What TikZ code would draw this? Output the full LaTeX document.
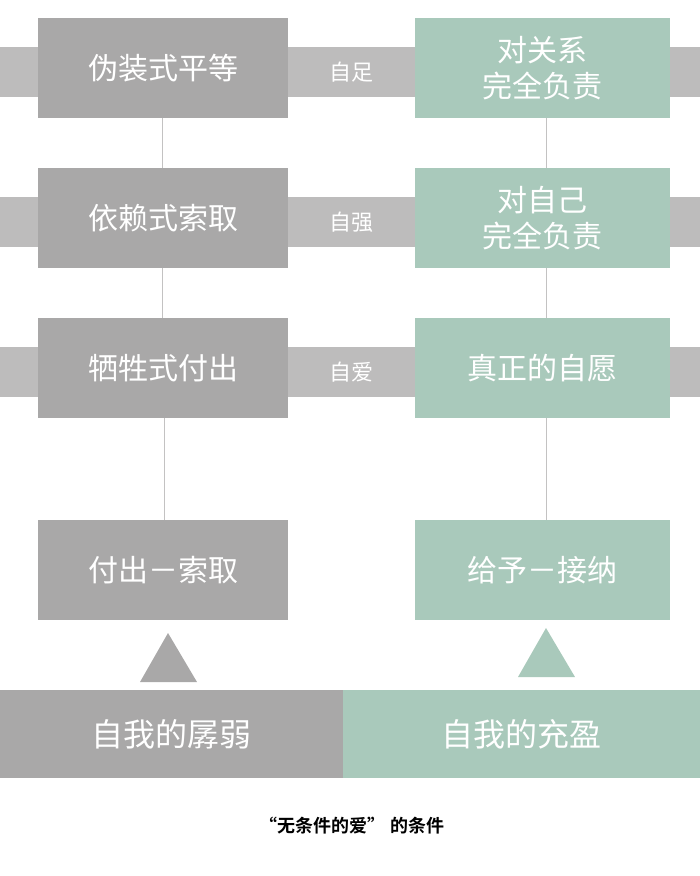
\documentclass[tikz,border=0pt]{standalone}
\usepackage{fontspec}
\newfontfamily\cjk{Noto Sans CJK SC}
\newfontfamily\cjkb{Noto Sans CJK SC Bold}
\definecolor{boxgray}{HTML}{A9A8A8}
\definecolor{bandgray}{HTML}{BDBCBC}
\definecolor{boxgreen}{HTML}{A9C9BB}
\begin{document}
\begin{tikzpicture}[x=1pt,y=-1pt,>=latex]
        \tikzstyle{leftbox}=[rectangle, fill=boxgray, text=white, minimum width=250pt, minimum height=100pt, inner sep=0pt, font=\cjk\fontsize{30}{36}\selectfont, align=center]
        \tikzstyle{rightbox}=[leftbox, fill=boxgreen, minimum width=255pt]
        \tikzstyle{band}=[rectangle, fill=bandgray, text=white, minimum width=700pt, minimum height=50pt, inner sep=0pt, font=\cjk\fontsize{22}{26}\selectfont]
        \tikzstyle{link}=[draw=boxgray!70, line width=0.8pt]
        \useasboundingbox (0,0) rectangle (700,876);
        % bands behind the rows
        \node[band] (band1) at (350,72) {};
        \node[band] (band2) at (350,222) {};
        \node[band] (band3) at (350,372) {};
        \node[text=white, font=\cjk\fontsize{22}{26}\selectfont] (zizu) at (351,72) {自足};
        \node[text=white, font=\cjk\fontsize{22}{26}\selectfont] (ziqiang) at (351,222) {自强};
        \node[text=white, font=\cjk\fontsize{22}{26}\selectfont] (ziai) at (351,372) {自爱};
        % left column
        \node[leftbox] (equal) at (163,68) {伪装式平等};
        \node[leftbox] (depend) at (163,218) {依赖式索取};
        \node[leftbox] (sacrifice) at (163,368) {牺牲式付出};
        \node[leftbox] (giveTake) at (163,570) {付出－索取};
        % right column
        \node[rightbox] (relation) at (542.5,68) {对关系\\完全负责};
        \node[rightbox] (self) at (542.5,218) {对自己\\完全负责};
        \node[rightbox] (willing) at (542.5,368) {真正的自愿};
        \node[rightbox] (giveAccept) at (542.5,570) {给予－接纳};
        \draw[link] (162,118) -- (162,168) (162,268) -- (162,318) (164,418) -- (164,520);
        \draw[link] (546,118) -- (546,168) (546,268) -- (546,318) (546,418) -- (546,520);
        % triangles and base
        \fill[boxgray] (168,633) -- (197,682) -- (140,682) -- cycle;
        \fill[boxgreen] (546,628) -- (575,677) -- (518,677) -- cycle;
        \node[leftbox, minimum width=343pt, minimum height=88pt, font=\cjk\fontsize{32}{38}\selectfont] (weak) at (171.5,734) {自我的孱弱};
        \node[rightbox, minimum width=357pt, minimum height=88pt, font=\cjk\fontsize{32}{38}\selectfont] (full) at (521.5,734) {自我的充盈};
        \node[font=\cjkb\fontsize{18}{22}\selectfont] (caption) at (352,826) {“无条件的爱” 的条件};
\end{tikzpicture}
\end{document}
